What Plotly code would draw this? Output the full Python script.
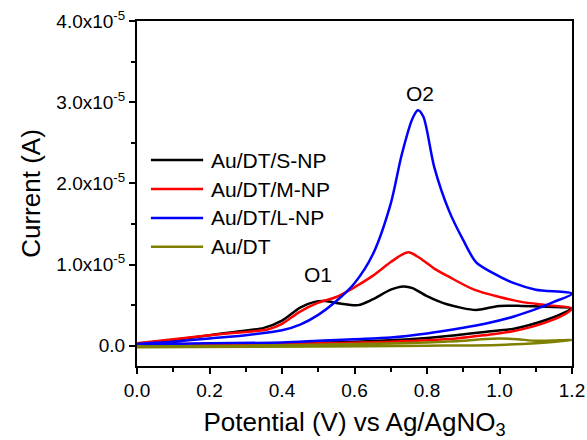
import numpy as np
import plotly.graph_objects as go

SCALE = 1e-5  # currents below are listed in units of 1e-5 A

# Au/DT/S-NP : anodic sweep then return sweep
s_np_v = [0.0, 0.1, 0.2, 0.27, 0.35, 0.4, 0.45, 0.49, 0.52, 0.56, 0.61, 0.65, 0.7, 0.735, 0.76, 0.8,
          0.855, 0.935, 0.975, 1.0, 1.06, 1.13, 1.2,
          1.185, 1.13, 1.04, 0.96, 0.88, 0.78, 0.6, 0.4, 0.2, 0.0]
s_np_i = [0.02, 0.07, 0.13, 0.17, 0.22, 0.31, 0.47, 0.54, 0.55, 0.52, 0.50, 0.57, 0.69, 0.73, 0.71, 0.61,
          0.51, 0.44, 0.47, 0.49, 0.49, 0.48, 0.46,
          0.42, 0.32, 0.21, 0.17, 0.13, 0.09, 0.05, 0.03, 0.02, 0.02]

# Au/DT/M-NP
m_np_v = [0.0, 0.1, 0.2, 0.3, 0.36, 0.4, 0.45, 0.5, 0.55, 0.6, 0.65, 0.7, 0.73, 0.75, 0.78, 0.82,
          0.86, 0.93, 1.0, 1.06, 1.13, 1.2,
          1.185, 1.13, 1.04, 0.96, 0.88, 0.7, 0.5, 0.3, 0.0]
m_np_i = [0.03, 0.08, 0.13, 0.17, 0.20, 0.27, 0.42, 0.53, 0.60, 0.72, 0.86, 1.03, 1.12, 1.15, 1.08, 0.95,
          0.85, 0.69, 0.60, 0.54, 0.50, 0.46,
          0.40, 0.29, 0.18, 0.13, 0.09, 0.05, 0.03, 0.02, 0.02]

# Au/DT/L-NP
l_np_v = [0.0, 0.1, 0.2, 0.3, 0.4, 0.45, 0.5, 0.55, 0.6, 0.65, 0.7, 0.73, 0.76, 0.775, 0.79, 0.82,
          0.86, 0.9, 0.935, 0.98, 1.04, 1.1, 1.2,
          1.15, 1.1, 1.04, 0.96, 0.9, 0.8, 0.7, 0.6, 0.5, 0.4, 0.2, 0.0]
l_np_i = [0.02, 0.05, 0.09, 0.13, 0.19, 0.26, 0.38, 0.55, 0.77, 1.12, 1.75, 2.35, 2.80, 2.90, 2.82, 2.20,
          1.67, 1.30, 1.03, 0.90, 0.77, 0.69, 0.64,
          0.54, 0.45, 0.36, 0.27, 0.22, 0.15, 0.10, 0.08, 0.06, 0.04, 0.03, 0.02]

# Au/DT (bare thiol layer)
dt_v = [0.0, 0.3, 0.6, 0.8, 0.9, 0.95, 1.0, 1.05, 1.1, 1.2,
        1.1, 1.0, 0.8, 0.5, 0.0]
dt_i = [-0.01, 0.0, 0.02, 0.04, 0.06, 0.08, 0.09, 0.08, 0.06, 0.07,
        0.03, 0.01, 0.0, -0.01, -0.02]

series_names = ["Au/DT/S-NP", "Au/DT/M-NP", "Au/DT/L-NP", "Au/DT"]
series_colors = ["#000000", "#ff0000", "#0000ff", "#808000"]
series_v = [s_np_v, m_np_v, l_np_v, dt_v]
series_i = [s_np_i, m_np_i, l_np_i, dt_i]

y_tickvals = [0.0, 1.0e-5, 2.0e-5, 3.0e-5, 4.0e-5]
y_ticktext = ["0.0", "1.0x10<sup>-5</sup>", "2.0x10<sup>-5</sup>",
              "3.0x10<sup>-5</sup>", "4.0x10<sup>-5</sup>"]
x_tickvals = [0.0, 0.2, 0.4, 0.6, 0.8, 1.0, 1.2]
x_ticktext = ["0.0", "0.2", "0.4", "0.6", "0.8", "1.0", "1.2"]

FONT = "Arial, Liberation Sans, sans-serif"

fig = go.Figure()
for name, color, v, i in zip(series_names, series_colors, series_v, series_i):
    fig.add_trace(go.Scatter(
        x=v, y=np.array(i) * SCALE, mode="lines", name=name,
        line=dict(color=color, width=2.5, shape="spline", smoothing=0.8),
        showlegend=False,
    ))

# hand-built legend with long line samples
leg_rows = [0.597, 0.513, 0.429, 0.346]
for name, color, yy in zip(series_names, series_colors, leg_rows):
    fig.add_shape(type="line", xref="paper", yref="paper", x0=0.032, x1=0.152,
                  y0=yy, y1=yy, line=dict(color=color, width=2.5))
    fig.add_annotation(xref="paper", yref="paper", x=0.166, y=yy, text=name,
                       showarrow=False, xanchor="left", yanchor="middle",
                       font=dict(family=FONT, size=21, color="#000000"))

# peak labels
fig.add_annotation(x=0.50, y=0.88e-5, text="O1", showarrow=False,
                   xanchor="center", yanchor="middle",
                   font=dict(family=FONT, size=21, color="#000000"))
fig.add_annotation(x=0.78, y=3.11e-5, text="O2", showarrow=False,
                   xanchor="center", yanchor="middle",
                   font=dict(family=FONT, size=21, color="#000000"))

fig.update_xaxes(
    range=[0.0, 1.2], tickmode="array", tickvals=x_tickvals, ticktext=x_ticktext,
    ticks="outside", ticklen=6, tickwidth=1.5, tickcolor="#000000",
    minor=dict(ticks="outside", ticklen=4, tickwidth=1.5, tickcolor="#000000",
               tick0=0.1, dtick=0.2),
    showline=True, linecolor="#000000", linewidth=2, mirror=True,
    showgrid=False, zeroline=False, automargin=False,
    tickfont=dict(family=FONT, size=19, color="#000000"),
    title=dict(text="Potential (V) vs Ag/AgNO<sub>3</sub>", standoff=18,
               font=dict(family=FONT, size=26, color="#000000")),
)
fig.update_yaxes(
    range=[-0.25e-5, 4.0e-5], tickmode="array", tickvals=y_tickvals, ticktext=y_ticktext,
    ticks="outside", ticklen=6, tickwidth=1.5, tickcolor="#000000",
    minor=dict(ticks="outside", ticklen=4, tickwidth=1.5, tickcolor="#000000",
               tick0=0.5e-5, dtick=1.0e-5),
    showline=True, linecolor="#000000", linewidth=2, mirror=True,
    showgrid=False, zeroline=False, automargin=False,
    tickfont=dict(family=FONT, size=19, color="#000000"),
    title=dict(text="Current (A)", standoff=8,
               font=dict(family=FONT, size=26, color="#000000")),
)
fig.update_layout(
    width=587, height=440,
    margin=dict(l=137, r=15, t=21, b=74),
    paper_bgcolor="#ffffff", plot_bgcolor="#ffffff",
    font=dict(family=FONT, color="#000000"),
)

fig.write_html("out.html")
